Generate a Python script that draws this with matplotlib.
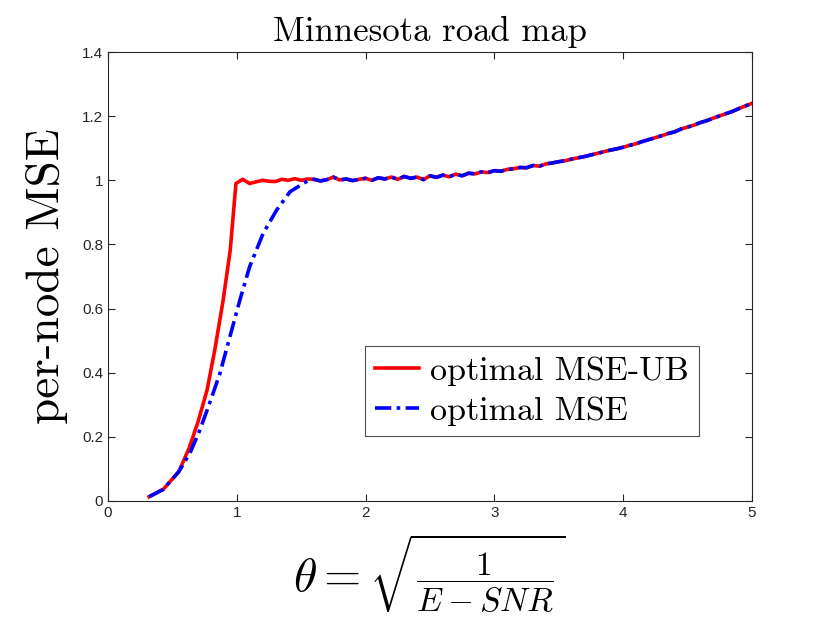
import matplotlib
matplotlib.use('Agg')
import matplotlib.pyplot as plt

# rising part of each curve
x_ub_rise = [0.32, 0.43, 0.55, 0.63, 0.70, 0.77, 0.83, 0.895, 0.95, 0.994, 1.046,
             1.10, 1.15, 1.20, 1.25, 1.30, 1.35, 1.40, 1.45, 1.50, 1.55]
y_ub_rise = [0.013, 0.036, 0.091, 0.164, 0.247, 0.346, 0.471, 0.627, 0.783, 0.990, 1.003,
             0.990, 0.995, 1.000, 0.997, 0.996, 1.003, 1.000, 1.005, 1.000, 1.004]

x_mse_rise = [0.32, 0.43, 0.55, 0.637, 0.714, 0.79, 0.87, 0.947, 1.025, 1.10,
              1.206, 1.31, 1.413, 1.516, 1.55]
y_mse_rise = [0.013, 0.036, 0.091, 0.149, 0.221, 0.305, 0.398, 0.512, 0.627, 0.730,
              0.835, 0.907, 0.964, 0.990, 0.998]

# common noisy tail, x = 1.60 .. 5.00 step 0.05
x_tail = [1.60, 1.65, 1.70, 1.75, 1.80, 1.85, 1.90, 1.95, 2.00, 2.05, 2.10, 2.15,
          2.20, 2.25, 2.30, 2.35, 2.40, 2.45, 2.50, 2.55, 2.60, 2.65, 2.70, 2.75,
          2.80, 2.85, 2.90, 2.95, 3.00, 3.05, 3.10, 3.15, 3.20, 3.25, 3.30, 3.35,
          3.40, 3.45, 3.50, 3.55, 3.60, 3.65, 3.70, 3.75, 3.80, 3.85, 3.90, 3.95,
          4.00, 4.05, 4.10, 4.15, 4.20, 4.25, 4.30, 4.35, 4.40, 4.45, 4.50, 4.55,
          4.60, 4.65, 4.70, 4.75, 4.80, 4.85, 4.90, 4.95, 5.00]
y_tail = [1.003, 0.998, 1.002, 1.010, 1.001, 1.004, 0.999, 1.003, 1.006, 1.000, 1.008, 1.004,
          1.010, 1.003, 1.012, 1.006, 1.010, 1.002, 1.014, 1.009, 1.016, 1.011, 1.019, 1.014,
          1.022, 1.020, 1.026, 1.024, 1.030, 1.028, 1.034, 1.036, 1.040, 1.039, 1.046, 1.044,
          1.051, 1.054, 1.058, 1.061, 1.066, 1.070, 1.074, 1.079, 1.084, 1.089, 1.094, 1.098,
          1.103, 1.109, 1.114, 1.121, 1.127, 1.133, 1.139, 1.146, 1.151, 1.160, 1.166, 1.172,
          1.180, 1.186, 1.194, 1.201, 1.208, 1.215, 1.224, 1.232, 1.240]

x_ticks = [0, 1, 2, 3, 4, 5]
y_ticks = [0, 0.2, 0.4, 0.6, 0.8, 1.0, 1.2, 1.4]
y_tick_labels = ['0', '0.2', '0.4', '0.6', '0.8', '1', '1.2', '1.4']

plt.rcParams['mathtext.fontset'] = 'cm'
plt.rcParams['axes.unicode_minus'] = False

fig = plt.figure(figsize=(8.3, 6.23), dpi=100)
ax = fig.add_axes([0.130, 0.196, 0.776, 0.7205])

ax.plot(x_ub_rise + x_tail, y_ub_rise + y_tail, color='#ff0000', lw=2.6,
        label='optimal MSE-UB')
ax.plot(x_mse_rise + x_tail, y_mse_rise + y_tail, color='#0000ff', lw=2.6,
        linestyle=(0, (4.5, 1.5, 1.0, 1.5)), label='optimal MSE')

ax.set_xlim(0, 5)
ax.set_ylim(0, 1.4)
ax.set_xticks(x_ticks)
ax.set_xticklabels([str(t) for t in x_ticks])
ax.set_yticks(y_ticks)
ax.set_yticklabels(y_tick_labels)
ax.tick_params(direction='in', length=5, width=0.8, colors='#262626',
               labelsize=11, top=True, right=True)
for lab in ax.get_xticklabels() + ax.get_yticklabels():
    lab.set_family('Liberation Sans')
for sp in ax.spines.values():
    sp.set_color('#262626')
    sp.set_linewidth(0.8)

ax.set_title('Minnesota road map', family='cmr10', fontsize=25, pad=8)
ax.set_ylabel('per-node MSE', family='cmr10', fontsize=34, labelpad=10)

# text-style fraction inside a tall root, like the LaTeX label
xl = ax.set_xlabel(r'$\theta = \sqrt{\genfrac{}{}{0.8}{1}{1}{E-SNR}}$', fontsize=34.5, labelpad=9)
try:
    fig.canvas.draw()
except ValueError:
    xl.set_text(r'$\theta = \sqrt{\frac{1}{E-SNR}}$')

leg = ax.legend(loc='lower left', bbox_to_anchor=(0.399, 0.145),
                prop={'family': 'cmr10', 'size': 24.5}, frameon=True, fancybox=False,
                handlelength=1.3, handletextpad=0.3, borderpad=0.3, labelspacing=0.3,
                borderaxespad=0)
leg.get_frame().set_edgecolor('#262626')
leg.get_frame().set_linewidth(0.8)

fig.savefig('out.png', dpi=100)
